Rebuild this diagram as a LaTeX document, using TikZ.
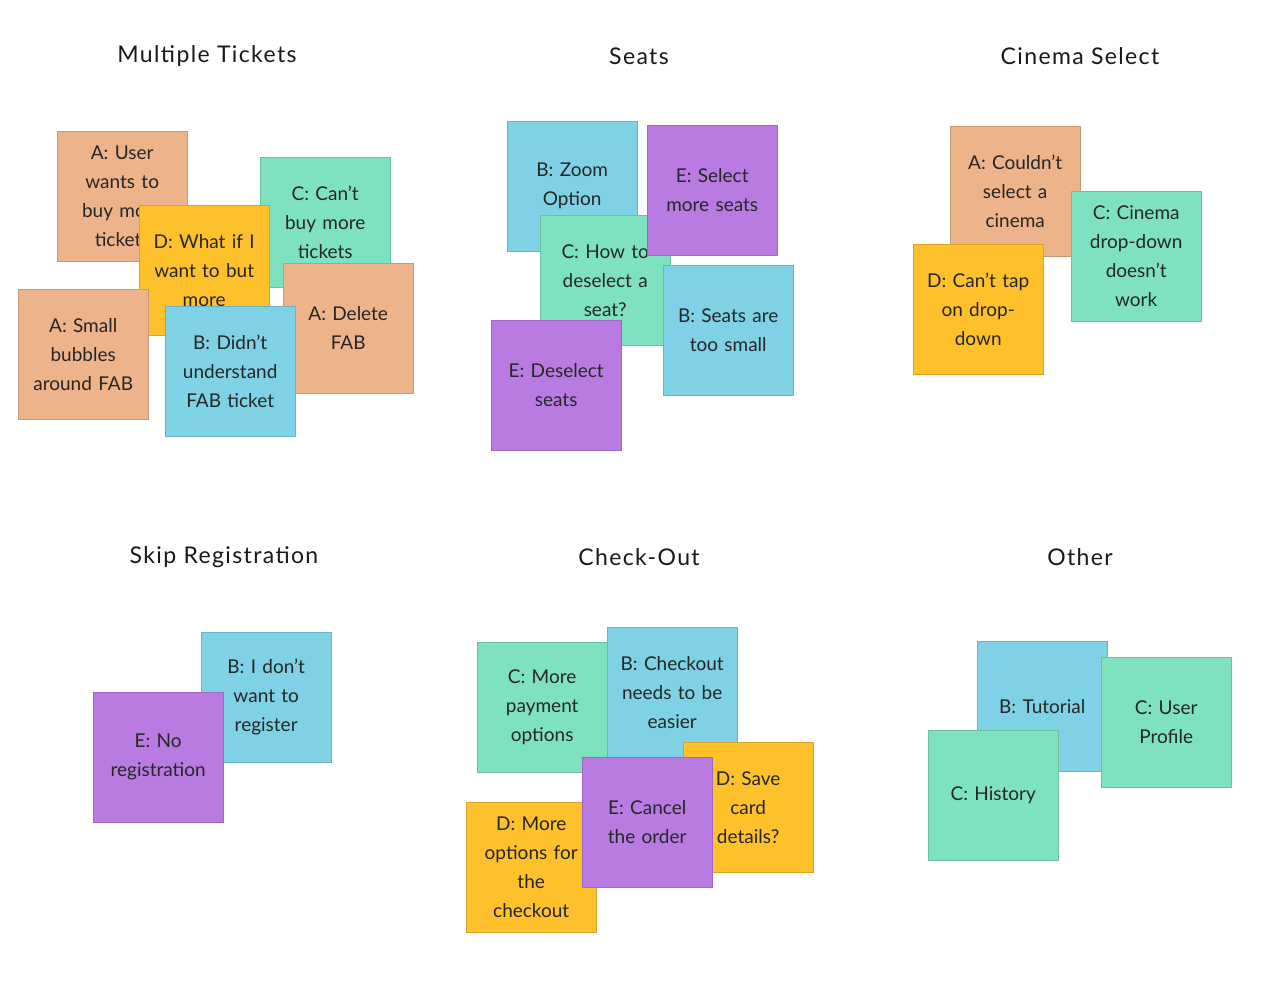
\documentclass[tikz,border=0pt]{standalone}
\usepackage{fontspec}
\setmainfont{Lato}
\definecolor{cO}{HTML}{EDB38A}
\definecolor{cY}{HTML}{FFC12B}
\definecolor{cG}{HTML}{7EE2BF}
\definecolor{cB}{HTML}{7FD1E6}
\definecolor{cP}{HTML}{B97BE2}
\tikzset{
 st/.style={draw=#1!85!black,line width=0.4pt,fill=#1,anchor=north west,minimum width=130pt,minimum height=130pt,inner sep=3pt,text width=122pt,align=center,font=\fontsize{19}{29}\selectfont,text=black!85},
 ttl/.style={font=\fontsize{23}{28}\selectfont\addfontfeature{LetterSpace=6},text=black!90}
}
\newcommand\stk[5]{\node[st=#4] (#1) at (#2,#3) {#5};}
\begin{document}
\begin{tikzpicture}[x=1pt,y=-1pt]
\useasboundingbox[fill=white] (0,0) rectangle (1280,999);
\node[ttl] (t1) at (207,56) {Multiple Tickets};
\node[ttl] (t2) at (639,56) {Seats};
\node[ttl] (t3) at (1080,56) {Cinema Select};
\node[ttl] (t4) at (224,557) {Skip Registration};
\node[ttl] (t5) at (639,557) {Check-Out};
\node[ttl] (t6) at (1080,557) {Other};
% Multiple tickets
\stk{a1}{57}{131}{cO}{A: User\\wants to\\buy more\\tickets}
\stk{c1}{260}{157}{cG}{C: Can't\\buy more\\tickets}
\stk{a2}{283}{263}{cO}{A: Delete\\FAB}
\stk{d1}{139}{205}{cY}{D: What if I\\want to but\\more}
\stk{a3}{18}{289}{cO}{A: Small\\bubbles\\around FAB}
\stk{b1}{165}{306}{cB}{B: Didn't\\understand\\FAB ticket}
% Seats
\stk{b2}{507}{121}{cB}{B: Zoom\\Option}
\stk{c2}{540}{215}{cG}{C: How to\\deselect a\\seat?}
\stk{e1}{647}{125}{cP}{E: Select\\more seats}
\stk{b3}{663}{265}{cB}{B: Seats are\\too small}
\stk{e2}{491}{320}{cP}{E: Deselect\\seats}
% Cinema
\stk{a4}{950}{126}{cO}{A: Couldn't\\select a\\cinema}
\stk{c3}{1071}{191}{cG}{C: Cinema\\drop-down\\doesn't\\work}
\stk{d2}{913}{244}{cY}{D: Can't tap\\on drop-\\down}
% Skip
\stk{b4}{201}{632}{cB}{B: I don't\\want to\\register}
\stk{e3}{93}{692}{cP}{E: No\\registration}
% Checkout
\stk{c4}{477}{642}{cG}{C: More\\payment\\options}
\stk{b5}{607}{627}{cB}{B: Checkout\\needs to be\\easier}
\stk{d3}{683}{742}{cY}{D: Save\\card\\details?}
\stk{d4}{466}{802}{cY}{D: More\\options for\\the\\checkout}
\stk{e4}{582}{757}{cP}{E: Cancel\\the order}
% Other
\stk{b6}{977}{641}{cB}{B: Tutorial}
\stk{c5}{1101}{657}{cG}{C: User\\Profile}
\stk{c6}{928}{730}{cG}{C: History}
\end{tikzpicture}
\end{document}
